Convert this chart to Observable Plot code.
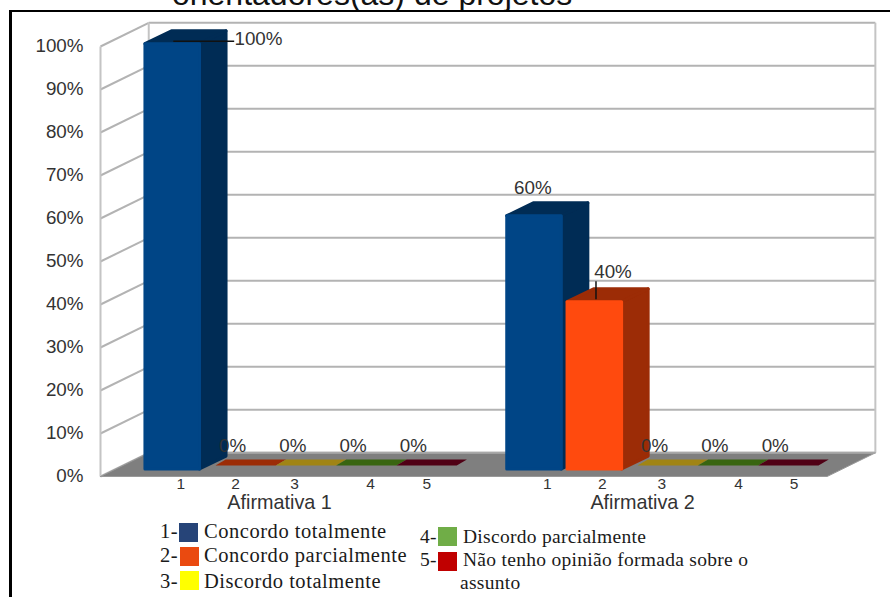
<!DOCTYPE html>
<html><head><meta charset="utf-8">
<script src="https://cdn.jsdelivr.net/npm/d3@7"></script>
<script src="https://cdn.jsdelivr.net/npm/@observablehq/plot@0.6"></script>
<style>
html,body{margin:0;padding:0;background:#fff;}
#page{position:relative;width:890px;height:597px;overflow:hidden;background:#fff;}
#title{position:absolute;left:172px;top:-24px;font:32px "Liberation Sans",sans-serif;color:#111;white-space:nowrap;}
#frame{position:absolute;left:9px;top:10px;width:881px;height:600px;border-left:3px solid #000;border-top:2px solid #000;box-sizing:border-box;}
#chart{position:absolute;left:0;top:0;}
.lg{position:absolute;font-family:"Liberation Serif",serif;color:#1a1a1a;white-space:nowrap;line-height:1;}
.c1{font-size:20.5px;letter-spacing:.54px;}
.c2{font-size:19.5px;letter-spacing:.29px;}
.sw{position:absolute;width:19px;height:19px;}
</style></head><body>
<div id="page">
<div id="title">orientadores(as) de projetos</div>
<div id="frame"></div>
<div id="chart"></div>
<div id="legend"></div>
</div>
<script>
// ---- data ----
const groups = ["Afirmativa 1", "Afirmativa 2"];
const answers = ["1", "2", "3", "4", "5"];
const afirmativa1 = [100, 0, 0, 0, 0];
const afirmativa2 = [60, 40, 0, 0, 0];
const pctTicks = [0, 10, 20, 30, 40, 50, 60, 70, 80, 90, 100];
const legendLabels = ["Concordo totalmente", "Concordo parcialmente", "Discordo totalmente", "Discordo parcialmente", "Não tenho opinião formada sobre o"];
const legendColors = ["#264478", "#EA4A10", "#FFFF00", "#70AD47", "#C00000"];
const faceColors = ["#004586", "#ff4a0e", "#ffd320", "#579d1c", "#7e0021"];
const sideColors = ["#002c55", "#9c2c06", "#a08414", "#386510", "#500015"];

// ---- oblique projection, in scale units (slots and percent) ----
const slotW = 0.905, depthX = 0.44, depthY = 3, baseY = 1.74, topY = 0.65;
const floorDX = 0.8, floorDY = 5.5, floorW = 12.05;
const slotX = (g, k) => 0.737 + 6 * g + k;
const tile = {dx: 0.17, w: 1, skew: 0.17, y0: 2.56, y1: 3.95};
// moved labels: offset of a label from its bar [slots, percent]
const labelShift = {"0-0": [1.43, -5.5], "1-0": [-0.02, -0.2], "1-1": [0.31, 0.4]};
const numberX = [[1.33, 2.24, 3.22, 4.48, 5.41], [7.41, 8.32, 9.31, 10.58, 11.5]];
const groupX = [2.97, 8.99];

const series = [afirmativa1, afirmativa2];
const bars = [], tiles = [];
function poly(out, id, fill, pts) {
  pts.concat([pts[0]]).forEach(([x, y]) => out.push({id, fill, x, y}));
}
const labels = [], leaders = [];
series.forEach((vals, g) => vals.forEach((v, k) => {
  const x1 = slotX(g, k), x2 = x1 + slotW, mid = (x1 + x2) / 2;
  const id = g + "-" + k;
  if (v > 0) {
    const t = topY + v;
    poly(bars, id + "s", sideColors[k], [[x2, baseY], [x2 + depthX, baseY + depthY], [x2 + depthX, t + depthY], [x2, t]]);
    poly(bars, id + "t", sideColors[k], [[x1, t], [x2, t], [x2 + depthX, t + depthY], [x1 + depthX, t + depthY]]);
    poly(bars, id + "f", faceColors[k], [[x1, baseY], [x2, baseY], [x2, t], [x1, t]]);
  } else {
    const a = x1 + tile.dx;
    poly(tiles, id + "t", sideColors[k], [[a, tile.y0], [a + tile.w, tile.y0], [a + tile.w + tile.skew, tile.y1], [a + tile.skew, tile.y1]]);
  }
  const s = labelShift[id] || [0, 0];
  labels.push({x: mid + s[0], y: v + 7.2 + s[1], text: v + "%"});
}));
leaders.push({x1: slotX(0,0) + 0.47, x2: slotX(0,0) + 1.48, y1: 101.2, y2: 101.2});
leaders.push({x1: slotX(1,1) + 0.48, x2: slotX(1,1) + 0.48, y1: 41.2, y2: 45.4});

// walls and floor
const floor = [[0, 0], [floorW, 0], [floorW + floorDX, floorDY], [floorDX, floorDY]];
const floorPoly = floor.concat([floor[0]]).map(([x, y]) => ({x, y}));
const gridFront = pctTicks.map(p => ({x1: 0, y1: p, x2: floorDX, y2: p + floorDY}));
const gridBack = pctTicks.map(p => ({x1: floorDX, y1: p + floorDY, x2: floorW + floorDX, y2: p + floorDY}));
const numbers = series.flatMap((_, g) => answers.map((a, k) => ({x: numberX[g][k], text: a})));
const groupLabels = groups.map((t, g) => ({x: groupX[g], text: t}));
const ink = "#333";

const plot = Plot.plot({
  width: 890, height: 515,
  marginTop: 0, marginBottom: 0, marginLeft: 0, marginRight: 0,
  x: {domain: [-100 / 60.3, (890 - 100) / 60.3], range: [0, 890], axis: null},
  y: {domain: [0, 100], range: [476, 46], axis: null},
  style: {fontFamily: "'Liberation Sans',sans-serif", background: "transparent", overflow: "visible"},
  marks: [
    Plot.link(gridFront, {x1: "x1", y1: "y1", x2: "x2", y2: "y2", stroke: "#b3b3b3", strokeWidth: 2}),
    Plot.link(gridBack, {x1: "x1", y1: "y1", x2: "x2", y2: "y2", stroke: "#b3b3b3", strokeWidth: 2}),
    Plot.link([{x: 0}, {x: floorDX}, {x: floorW + floorDX}], {x1: "x", x2: "x", y1: d => d.x === 0 ? 0 : floorDY, y2: d => d.x === 0 ? 100 : 100 + floorDY, stroke: "#c4c4c4", strokeWidth: 2}),
    Plot.line(floorPoly, {x: "x", y: "y", fill: "#7f7f7f", stroke: "#999", strokeWidth: 1}),
    Plot.link(gridBack.slice(0, 1), {x1: "x1", y1: "y1", x2: "x2", y2: "y2", stroke: "#a8a8a8", strokeWidth: 2}),
    Plot.line(tiles, {x: "x", y: "y", z: "id", fill: "fill", stroke: "none"}),
    Plot.line(bars, {x: "x", y: "y", z: "id", fill: "fill", stroke: "fill", strokeWidth: 3, strokeLinejoin: "round"}),
    Plot.link(leaders, {x1: "x1", x2: "x2", y1: "y1", y2: "y2", stroke: "#111", strokeWidth: 1.5}),
    Plot.axisY({ticks: pctTicks, tickSize: 0, tickPadding: 17, dy: -1, anchor: "left", x: 0, tickFormat: d => d + "%", fontSize: 18.8, fill: ink, marginLeft: 100, label: null}),
    Plot.text(labels, {x: "x", y: "y", text: "text", fontSize: 18.8, fill: ink}),
    Plot.text(numbers, {x: "x", y: () => -1.7, text: "text", fontSize: 15.5, fill: ink}),
    Plot.text(groupLabels, {x: "x", y: () => -6.1, text: "text", fontSize: 19.8, fill: ink})
  ]
});
document.getElementById("chart").appendChild(plot);

// legend
const legend = document.getElementById("legend");
const lgPos = [
  {c: "c1", n: 160, s: 179, t: 204, sy: 523, ty: 521},
  {c: "c1", n: 160, s: 180, t: 204, sy: 547, ty: 545},
  {c: "c1", n: 160, s: 180, t: 204, sy: 571, ty: 571},
  {c: "c2", n: 420, s: 438, t: 463, sy: 527, ty: 527},
  {c: "c2", n: 420, s: 438, t: 463, sy: 552, ty: 550}
];
legendLabels.forEach((t, i) => {
  const p = lgPos[i];
  legend.insertAdjacentHTML("beforeend",
    `<div class="lg ${p.c}" style="left:${p.n}px;top:${p.ty}px">${i + 1}-</div>` +
    `<div class="sw" style="left:${p.s}px;top:${p.sy}px;background:${legendColors[i]}"></div>` +
    `<div class="lg ${p.c}" style="left:${p.t}px;top:${p.ty}px">${t}</div>`);
});
legend.insertAdjacentHTML("beforeend", `<div class="lg c2" style="left:460px;top:573px">assunto</div>`);
</script>
</body></html>
